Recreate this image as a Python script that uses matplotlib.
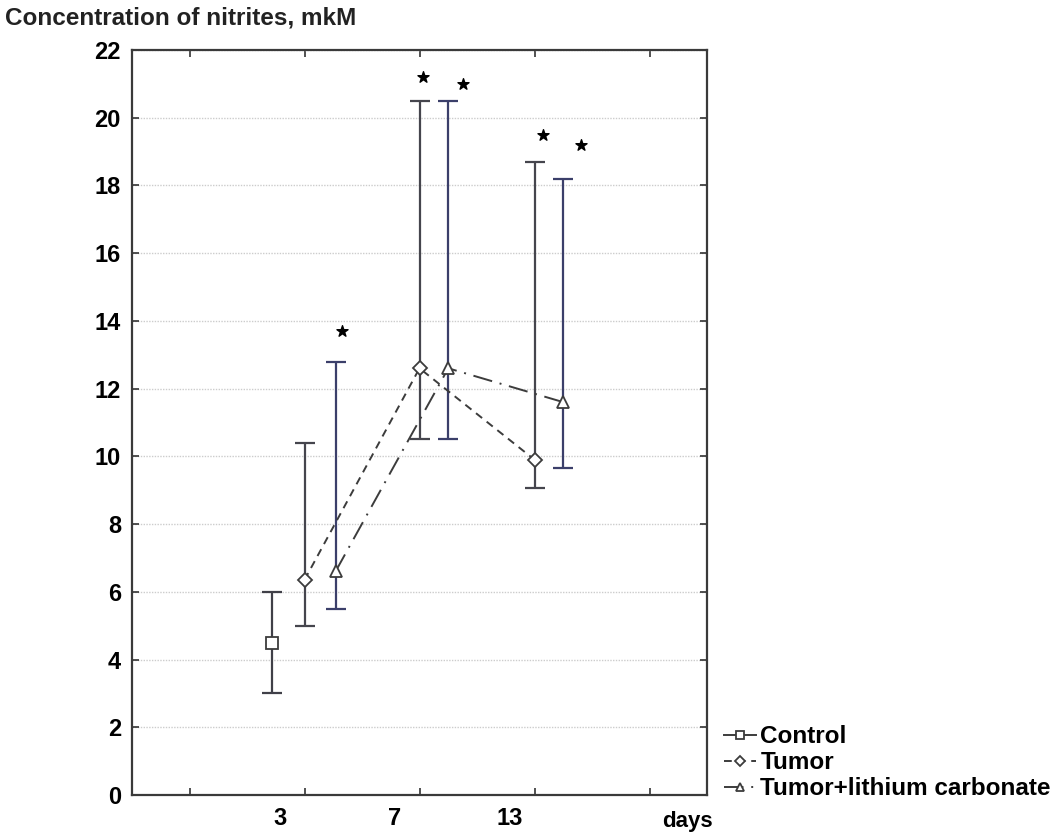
import matplotlib.pyplot as plt

plt.rcParams["font.family"] = ["Liberation Sans", "DejaVu Sans"]
plt.rcParams["font.weight"] = "bold"

# group positions on a category axis (tick marks at 1..5)
control_x = [1.72]
control_mean = [4.5]
control_lo = [3.0]
control_hi = [6.0]

tumor_x = [2.0, 3.0, 4.0]
tumor_mean = [6.35, 12.6, 9.9]
tumor_lo = [5.0, 10.5, 9.05]
tumor_hi = [10.4, 20.5, 18.7]

li_x = [2.27, 3.25, 4.25]
li_mean = [6.6, 12.6, 11.6]
li_lo = [5.5, 10.5, 9.65]
li_hi = [12.8, 20.5, 18.2]

star_x = [2.33, 3.03, 3.38, 4.07, 4.40]
star_y = [13.7, 21.2, 21.0, 19.5, 19.2]

day_labels = ["3", "7", "13"]
day_label_x = [1.79, 2.78, 3.78]


def draw_group(ax, x, mean, lo, hi, marker, ls, ecolor, label, msize):
    yerr = [[m - l for m, l in zip(mean, lo)], [h - m for m, h in zip(mean, hi)]]
    ax.errorbar(x, mean, yerr=yerr, fmt="none", ecolor=ecolor,
                elinewidth=1.6, capsize=7.5, capthick=1.6, zorder=2)
    ax.plot(x, mean, linestyle=ls, color="#3c3c3c", linewidth=1.4,
            marker=marker, markersize=msize, markerfacecolor="white",
            markeredgecolor="#3c3c3c", markeredgewidth=1.3, label=label, zorder=3)


fig = plt.figure(figsize=(10.51, 8.34), dpi=100)
ax = fig.add_axes([0.1256, 0.0468, 0.5471, 0.8933])

draw_group(ax, control_x, control_mean, control_lo, control_hi,
           "s", "-", "#404048", "Control", 8)
draw_group(ax, tumor_x, tumor_mean, tumor_lo, tumor_hi,
           "D", (0, (4, 3)), "#45454d", "Tumor", 7)
draw_group(ax, li_x, li_mean, li_lo, li_hi,
           "^", (0, (10, 4, 1, 4)), "#3b3f6a", "Tumor+lithium carbonate", 8)

ax.scatter(star_x, star_y, marker="*", s=70, color="black", zorder=4)

ax.set_xlim(0.5, 5.5)
ax.set_ylim(0, 22)
ax.set_yticks(range(0, 23, 2))
ax.set_xticks([1, 2, 3, 4, 5])
ax.set_xticklabels([])
ax.set_xticks(day_label_x, minor=True)
ax.set_xticklabels(day_labels, minor=True)
ax.tick_params(axis="x", which="minor", length=0, pad=9, labelsize=17)
ax.tick_params(axis="both", which="major", direction="in", length=5,
               width=1.2, top=True, right=True, labelsize=17, color="#333333")
ax.tick_params(axis="y", pad=8)
ax.grid(True, axis="y", color="#cccccc", linestyle=(0, (1, 1)), linewidth=1)
for s in ax.spines.values():
    s.set_linewidth(1.6)
    s.set_color("#3a3a3a")

ax.text(5.33, -0.036, "days", transform=ax.get_xaxis_transform(),
        ha="center", va="center", fontsize=16, fontweight="bold")
fig.text(0.005, 0.979, "Concentration of nitrites, mkM", fontsize=17.5,
         fontweight="bold", ha="left", va="center", color="#222222")

ax.legend(loc="lower left", bbox_to_anchor=(1.0, -0.03), frameon=False,
          handlelength=1.3, handletextpad=0.2, labelspacing=0.12,
          fontsize=17.5, markerscale=0.7, borderaxespad=0.3)

fig.savefig("out.png", dpi=100)
